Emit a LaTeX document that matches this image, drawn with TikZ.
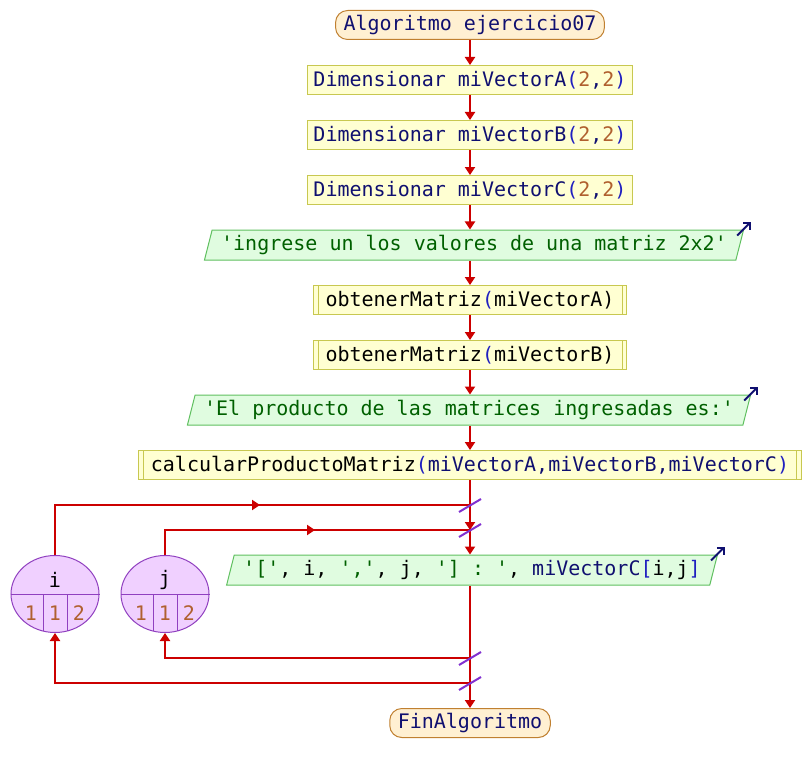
\documentclass[tikz,border=0pt]{standalone}
\usepackage{fontspec}
\setmonofont{DejaVu Sans Mono}
\usetikzlibrary{arrows.meta,shapes.geometric,decorations.markings}
\definecolor{flujo}{HTML}{CC0000}
\definecolor{procfill}{HTML}{FFFFD2}
\definecolor{procline}{HTML}{C8C850}
\definecolor{termfill}{HTML}{FFF0D2}
\definecolor{termline}{HTML}{C08030}
\definecolor{salfill}{HTML}{E0FCE0}
\definecolor{salline}{HTML}{60C060}
\definecolor{parafill}{HTML}{F0D0FF}
\definecolor{paraline}{HTML}{9040C0}
\definecolor{corte}{HTML}{8030D0}
\definecolor{kwcol}{HTML}{101070}
\definecolor{numcol}{HTML}{B0602F}
\definecolor{strcol}{HTML}{006000}
\definecolor{pncol}{HTML}{2020C0}
\newcommand{\kw}[1]{\textcolor{kwcol}{#1}}
\newcommand{\nm}[1]{\textcolor{numcol}{#1}}
\newcommand{\st}[1]{\textcolor{strcol}{#1}}
\newcommand{\pn}[1]{\textcolor{pncol}{#1}}

\begin{document}
\begin{tikzpicture}[x=1pt,y=-1pt,font=\ttfamily\fontsize{20}{24}\selectfont,
  >={Triangle[length=8pt,width=10pt]},
  proc/.style={draw=procline,fill=procfill,line width=1pt,minimum height=29pt,inner xsep=6pt,inner ysep=2pt},
  subproc/.style={proc,inner xsep=12pt},
  term/.style={draw=termline,fill=termfill,line width=1pt,rounded corners=12pt,minimum height=29pt,inner xsep=8pt,inner ysep=2pt},
  salida/.style={trapezium,trapezium stretches=true,trapezium left angle=72,trapezium right angle=108,draw=salline,fill=salfill,line width=1pt,minimum height=30pt,inner xsep=9pt,inner ysep=2pt},
  cuenta/.style={ellipse,draw=paraline,fill=parafill,line width=1pt,minimum width=88pt,minimum height=77pt,inner sep=0pt},
  sep/.style={draw=paraline,line width=1pt},
  flow/.style={draw=flujo,line width=2pt},
  slash/.style={draw=corte,line width=2pt},
  glyph/.style={draw=kwcol,line width=2pt,-{Straight Barb[length=5pt]}},
  arrowat/.style={postaction=decorate,decoration={markings,mark=at position #1 with {\arrow[flujo]{>}}}}]
\useasboundingbox (0,0) rectangle (810,773);

% bloques
\node[term] (ini) at (470,25) {\kw{Algoritmo ejercicio07}};
\node[proc] (dimA) at (470,80) {\kw{Dimensionar miVectorA}\pn{(}\nm{2}\kw{,}\nm{2}\pn{)}};
\node[proc] (dimB) at (470,135) {\kw{Dimensionar miVectorB}\pn{(}\nm{2}\kw{,}\nm{2}\pn{)}};
\node[proc] (dimC) at (470,190) {\kw{Dimensionar miVectorC}\pn{(}\nm{2}\kw{,}\nm{2}\pn{)}};
\node[salida] (out1) at (474,245) {\st{'ingrese un los valores de una matriz 2x2'}};
\node[subproc] (obtA) at (470,300) {obtenerMatriz\pn{(}miVectorA)};
\node[subproc] (obtB) at (470,355) {obtenerMatriz\pn{(}miVectorB)};
\node[salida] (out2) at (469,410) {\st{'El producto de las matrices ingresadas es:'}};
\node[subproc] (calc) at (470,465) {calcularProductoMatriz\pn{(}\kw{miVectorA,miVectorB,miVectorC}\pn{)}};
\node[salida] (out3) at (472,570) {\st{'['}, i, \st{','}, j, \st{'] : '}, \kw{miVectorC}\pn{[}i,j\pn{]}};
\node[term] (fin) at (470,723) {\kw{FinAlgoritmo}};

% contadores
\node[cuenta] (elli) at (55,594) {};
\node[cuenta] (ellj) at (165,594) {};

\coordinate (li) at (470,505);
\coordinate (lj) at (470,530);
\coordinate (ej) at (470,658);
\coordinate (ei) at (470,683);

% flujo
\draw[flow,->] (ini) -- (dimA);
\draw[flow,->] (dimA) -- (dimB);
\draw[flow,->] (dimB) -- (dimC);
\draw[flow,->] (dimC) -- (dimC |- out1.north);
\draw[flow,->] (dimC |- out1.south) -- (obtA);
\draw[flow,->] (obtA) -- (obtB);
\draw[flow,->] (obtB) -- (obtB |- out2.north);
\draw[flow,->] (obtB |- out2.south) -- (calc);
\draw[flow] (calc) -- (li);
\draw[flow,->] (li) -- (lj);
\draw[flow,->] (lj) -- (lj |- out3.north);
\draw[flow] (lj |- out3.south) -- (ej) -- (ei);
\draw[flow,->] (ei) -- (fin);
\draw[flow,arrowat=255pt] (elli) |- (li);
\draw[flow,arrowat=175pt] (ellj) |- (lj);
\draw[flow,->] (ej) -| (ellj);
\draw[flow,->] (ei) -| (elli);

\foreach \c in {li,lj,ej,ei}
  \draw[slash] (\c) ++(-11,7) -- ++(22,-13);

% subprocesos
\foreach \s in {obtA,obtB,calc} {
  \draw[procline,line width=1pt] ([xshift=5pt]\s.north west) -- ([xshift=5pt]\s.south west);
  \draw[procline,line width=1pt] ([xshift=-5pt]\s.north east) -- ([xshift=-5pt]\s.south east);
}

% salidas
\foreach \s in {out1,out2,out3}
  \draw[glyph] (\s.top right corner) ++(-7,6) -- ++(14,-14);

% divisiones de los contadores
\foreach \e/\v in {elli/i,ellj/j} {
  \draw[sep] (\e.west) -- (\e.east);
  \draw[sep] (\e.center) ++(-12,0) -- ++(0,36.6);
  \draw[sep] (\e.center) ++(12,0) -- ++(0,36.6);
  \node (\e-var) at ([yshift=14pt]\e.center) {\v};
  \node[text=numcol] (\e-ini) at ([xshift=-24pt,yshift=-19pt]\e.center) {1};
  \node[text=numcol] (\e-fin) at ([yshift=-19pt]\e.center) {1};
  \node[text=numcol] (\e-paso) at ([xshift=24pt,yshift=-19pt]\e.center) {2};
}
\end{tikzpicture}
\end{document}
